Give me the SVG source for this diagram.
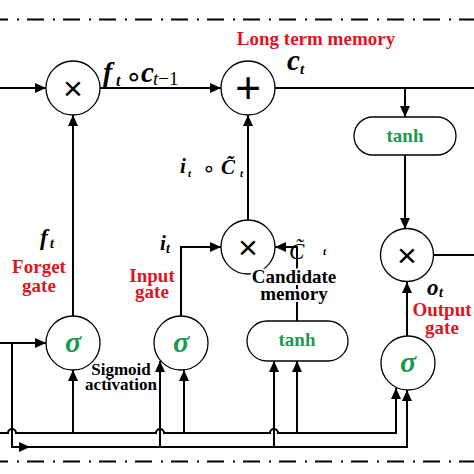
<svg xmlns="http://www.w3.org/2000/svg" width="474" height="474" viewBox="0 0 474 474">
<style>
.ln{stroke:#000;stroke-width:2;fill:none}
.arr{marker-end:url(#ah)}
.dd{stroke:#000;stroke-width:2;fill:none;stroke-dasharray:17 9 2 8;stroke-dashoffset:9}
.nd{fill:#fff;stroke:#000;stroke-width:1.3}
.op{font-family:"Liberation Sans",Arial,sans-serif;text-anchor:middle;fill:#000}
.lbl{font-family:"Liberation Serif","Times New Roman",serif;font-weight:bold;font-size:19px;text-anchor:middle}
.red{fill:#e0141e}
.grn{fill:#1a9a4e}
.blk{fill:#000}
.sig{font-family:"Liberation Serif","Times New Roman",serif;font-weight:bold;font-style:italic;font-size:30px;text-anchor:middle;fill:#1a9a4e}
.mi{font-family:"Liberation Serif","Times New Roman",serif;font-weight:bold;font-style:italic;fill:#000}
.ring{font-family:"DejaVu Sans",sans-serif;fill:#000}
.halo{stroke:#fff;stroke-width:4;paint-order:stroke;stroke-linejoin:round}
</style>
<defs>
<marker id="ah" markerUnits="userSpaceOnUse" markerWidth="12" markerHeight="10" refX="11" refY="5" orient="auto">
<path d="M0,0 L11,5 L0,10 Z" fill="#000"/>
</marker>
</defs>

<g id="frame">
<line class="dd" x1="0" y1="19.5" x2="474" y2="19.5"/>
<line class="dd" x1="0" y1="461.5" x2="474" y2="461.5"/>
</g>

<g id="connectors">
<path class="ln arr" d="M0 88 H46"/>
<path class="ln arr" d="M100 88 H221"/>
<path class="ln" d="M275 88 H474"/>
<path class="ln arr" d="M405 88 V117"/>
<path class="ln arr" d="M405 155 V229"/>
<path class="ln" d="M433 255 H474"/>
<path class="ln arr" d="M407 336 V282"/>
<path class="ln arr" d="M73 316 V115"/>
<path class="ln arr" d="M248 220 V115"/>
<path class="ln arr" d="M181 316 V247 H221"/>
<path class="ln arr" d="M297 321 V247 H275"/>
<path class="ln arr" d="M0 343 H46"/>
<path class="ln arr" d="M12 343 V447 H30"/>
<path class="ln arr" d="M30 447 H407 V390"/>
<path class="ln arr" d="M160 447 V361"/>
<path class="ln arr" d="M274 447 V361"/>
<path class="ln arr" d="M0 433 H8 a4 4 0 0 1 8 0 H156 a4 4 0 0 1 8 0 H270 a4 4 0 0 1 8 0 H396 V388"/>
<path class="ln arr" d="M73 433 V370"/>
<path class="ln arr" d="M184 433 V370"/>
<path class="ln arr" d="M297 433 V361"/>
</g>

<g id="forget_mul">
<circle class="nd" cx="73" cy="88" r="27"/>
<text class="op" x="73" y="100" font-size="34">×</text>
</g>
<g id="add">
<circle class="nd" cx="248" cy="88" r="27"/>
<text class="op" x="248" y="103" font-size="44">+</text>
</g>
<g id="tanh_cell">
<rect class="nd" x="354" y="117" width="102" height="38" rx="19"/>
<text class="lbl grn" x="405" y="142">tanh</text>
</g>
<g id="output_mul">
<circle class="nd" cx="407" cy="255" r="26.5"/>
<text class="op" x="407" y="267" font-size="34">×</text>
</g>
<g id="input_mul">
<circle class="nd" cx="248" cy="247" r="27"/>
<text class="op" x="248" y="259" font-size="34">×</text>
</g>
<g id="forget_sigma">
<circle class="nd" cx="73" cy="343" r="27"/>
<text class="sig" x="73" y="352">σ</text>
</g>
<g id="input_sigma">
<circle class="nd" cx="181" cy="343" r="27"/>
<text class="sig" x="181" y="352">σ</text>
</g>
<g id="output_sigma">
<circle class="nd" cx="408" cy="363" r="27"/>
<text class="sig" x="408" y="372">σ</text>
</g>
<g id="tanh_candidate">
<rect class="nd" x="247" y="321" width="101" height="40" rx="20"/>
<text class="lbl grn" x="297" y="346">tanh</text>
</g>

<g id="labels">
<text class="lbl red" x="316" y="45">Long term memory</text>
<text class="mi" x="103" y="81" font-size="28">f</text>
<text class="mi" x="116" y="86" font-size="16">t</text>
<text class="ring" x="125" y="86" font-size="28">∘</text>
<text class="mi" x="141" y="82" font-size="29">c</text>
<text x="153" y="85" font-family="Liberation Serif,serif" font-size="19"><tspan font-style="italic">t</tspan>−1</text>
<text class="mi" x="287" y="70" font-size="29">c</text>
<text class="mi" x="300" y="74" font-size="15">t</text>

<text class="mi" x="180" y="173" font-size="21">i</text>
<text class="mi" x="188" y="177" font-size="11">t</text>
<text class="ring" x="202" y="176" font-size="22">∘</text>
<text class="mi" x="221" y="174" font-size="21">C̃</text>
<text class="mi" x="240" y="177" font-size="11">t</text>

<text class="mi" x="40" y="245" font-size="23">f</text>
<text class="mi" x="50" y="248" font-size="14">t</text>
<text class="lbl red" x="39" y="273">Forget</text>
<text class="lbl red" x="39" y="292">gate</text>

<text class="mi" x="160" y="250" font-size="21">i</text>
<text class="mi" x="166" y="253" font-size="14">t</text>
<text class="lbl red" x="152" y="282">Input</text>
<text class="lbl red" x="152" y="298">gate</text>

<text x="289" y="259" font-family="Liberation Serif,serif" font-style="italic" font-size="23">C̃</text>
<text x="323" y="255" font-family="Liberation Serif,serif" font-style="italic" font-weight="bold" font-size="11">t</text>
<text class="lbl blk halo" x="294" y="283">Candidate</text>
<text class="lbl blk halo" x="294" y="300">memory</text>

<text class="lbl blk" x="121" y="375" style="font-size:17px">Sigmoid</text>
<text class="lbl blk" x="121" y="390" style="font-size:17px">activation</text>

<text class="mi" x="427" y="295" font-size="23">o</text>
<text class="mi" x="439" y="297" font-size="14">t</text>
<text class="lbl red" x="442" y="316">Output</text>
<text class="lbl red" x="442" y="334">gate</text>
</g>
</svg>
